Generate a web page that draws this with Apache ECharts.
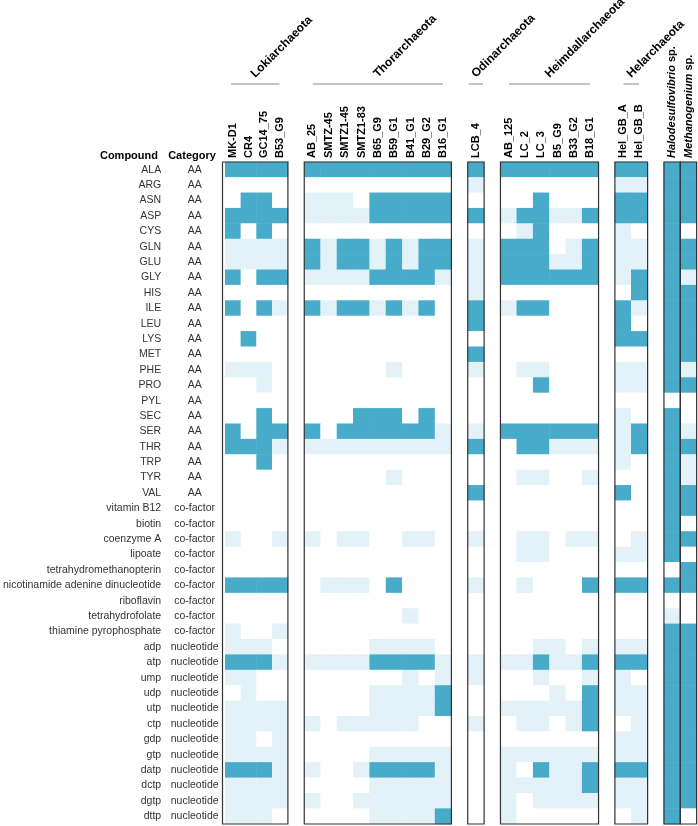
<!DOCTYPE html>
<html lang="en">
<head>
<meta charset="UTF-8">
<title>Compound auxotrophy heatmap</title>
<script src="https://cdn.jsdelivr.net/npm/echarts@6/dist/echarts.min.js"></script>
<style>
    html, body { margin: 0; padding: 0; background: #fff; }
    #chart { width: 698px; height: 826px; }
</style>
</head>
<body>
<div id="chart"></div>
<script>
    // rows of the heatmap
    const compounds = ['ALA', 'ARG', 'ASN', 'ASP', 'CYS', 'GLN', 'GLU', 'GLY', 'HIS', 'ILE', 'LEU', 'LYS',
        'MET', 'PHE', 'PRO', 'PYL', 'SEC', 'SER', 'THR', 'TRP', 'TYR', 'VAL',
        'vitamin B12', 'biotin', 'coenzyme A', 'lipoate', 'tetrahydromethanopterin',
        'nicotinamide adenine dinucleotide', 'riboflavin', 'tetrahydrofolate', 'thiamine pyrophosphate',
        'adp', 'atp', 'ump', 'udp', 'utp', 'ctp', 'gdp', 'gtp', 'datp', 'dctp', 'dgtp', 'dttp'];
    const categories = ['AA', 'AA', 'AA', 'AA', 'AA', 'AA', 'AA', 'AA', 'AA', 'AA', 'AA', 'AA',
        'AA', 'AA', 'AA', 'AA', 'AA', 'AA', 'AA', 'AA', 'AA', 'AA',
        'co-factor', 'co-factor', 'co-factor', 'co-factor', 'co-factor',
        'co-factor', 'co-factor', 'co-factor', 'co-factor',
        'nucleotide', 'nucleotide', 'nucleotide', 'nucleotide', 'nucleotide', 'nucleotide',
        'nucleotide', 'nucleotide', 'nucleotide', 'nucleotide', 'nucleotide', 'nucleotide'];

    // genomes per group
    const lokiCols = ['MK-D1', 'CR4', 'GC14_75', 'B53_G9'];
    const thorCols = ['AB_25', 'SMTZ-45', 'SMTZ1-45', 'SMTZ1-83', 'B65_G9', 'B59_G1', 'B41_G1', 'B29_G2', 'B16_G1'];
    const odinCols = ['LCB_4'];
    const heimCols = ['AB_125', 'LC_2', 'LC_3', 'B5_G9', 'B33_G2', 'B18_G1'];
    const helCols = ['Hel_GB_A', 'Hel_GB_B'];
    const haloCols = ['Halodesulfovibrio sp.'];
    const methCols = ['Methanogenium sp.'];

    // 0 = none, 1 = light, 2 = dark; one string per compound, one digit per genome
    const lokiRows = ['2222', '0000', '0220', '2222', '2020', '1111', '1111', '2022', '0000', '2021', '0000', '0200',
        '0000', '1110', '0010', '0000', '0020', '2022', '2221', '0020', '0000', '0000',
        '0000', '0000', '1001', '0000', '0000', '2222', '0000', '0000', '1001',
        '1110', '2221', '1100', '0100', '1111', '1111', '1101', '1111', '2221', '1111', '1111', '1110'];
    const thorRows = ['222222222', '000000000', '111022222', '111122222', '000000000', '212212122', '212212122',
        '111122221', '000000000', '212212120', '000000000', '000000000',
        '000000000', '000001000', '000000000', '000000000', '000222020', '202222221', '111111111',
        '000000000', '000001000', '000000000',
        '000000000', '000000000', '101100110', '000000000', '000000000', '011102000', '000000000',
        '000000100', '000000000',
        '000011110', '111122221', '000000101', '000011112', '000011112', '101111100', '000000000',
        '000011111', '100122221', '000011111', '100111111', '000011112'];
    const odinRows = ['2', '1', '0', '2', '0', '1', '1', '1', '1', '2', '2', '0',
        '2', '1', '0', '0', '0', '1', '2', '0', '0', '2',
        '0', '0', '1', '0', '0', '1', '0', '0', '0',
        '0', '1', '1', '0', '0', '1', '0', '0', '0', '0', '0', '0'];
    const heimRows = ['222222', '000000', '002000', '122112', '012000', '222012', '222112', '222222', '000000',
        '122000', '000000', '000000',
        '000000', '011000', '002000', '000000', '000000', '222222', '022111', '000000', '011001', '000000',
        '000000', '000000', '011011', '011000', '000000', '010002', '000000', '000000', '000000',
        '001101', '112112', '001001', '000102', '111112', '011012', '000000', '111111', '102112',
        '111112', '101111', '100000'];
    const helRows = ['22', '11', '22', '22', '10', '11', '11', '12', '02', '21', '20', '22',
        '00', '11', '11', '00', '10', '12', '12', '10', '00', '20',
        '00', '00', '01', '11', '00', '22', '00', '00', '00',
        '11', '22', '10', '11', '11', '01', '11', '11', '22', '11', '11', '01'];
    const haloRows = ['2', '2', '2', '2', '2', '2', '2', '2', '2', '2', '2', '2',
        '2', '2', '2', '0', '2', '2', '2', '2', '2', '2',
        '2', '2', '2', '2', '0', '2', '0', '1', '2',
        '2', '2', '2', '2', '2', '2', '2', '2', '2', '2', '2', '2'];
    const methRows = ['2', '2', '2', '2', '0', '2', '2', '1', '2', '2', '2', '2',
        '2', '1', '2', '0', '0', '1', '2', '1', '1', '2',
        '2', '0', '2', '0', '2', '2', '0', '0', '2',
        '2', '2', '2', '2', '2', '2', '2', '2', '2', '2', '2', '0'];

    const colors = ['#ffffff', '#e2f2f8', '#47abc9'];
    const font = 'Liberation Sans';

    // panel layout (start is a column slot, one empty slot between groups)
    const colW = 16.35, x0 = 222.5, gridTop = 162, gridH = 662;
    const panels = [
        {name: 'Lokiarchaeota', cols: lokiCols, rows: lokiRows, start: 0},
        {name: 'Thorarchaeota', cols: thorCols, rows: thorRows, start: 5},
        {name: 'Odinarchaeota', cols: odinCols, rows: odinRows, start: 15},
        {name: 'Heimdallarchaeota', cols: heimCols, rows: heimRows, start: 17},
        {name: 'Helarchaeota', cols: helCols, rows: helRows, start: 24},
        {name: '', cols: haloCols, rows: haloRows, start: 27},
        {name: '', cols: methCols, rows: methRows, start: 28}
    ];

    let grids = [], xAxes = [], yAxes = [], series = [], graphics = [];

    panels.forEach(function (p, gi) {
        let left = x0 + p.start * colW;
        let width = p.cols.length * colW;
        grids.push({left: left, top: gridTop, width: width, height: gridH});
        xAxes.push({
            type: 'category', gridIndex: gi, position: 'top', data: p.cols,
            axisLine: {show: false}, axisTick: {show: false}, splitLine: {show: false},
            axisLabel: {
                rotate: -90, interval: 0, margin: 4, color: '#000',
                fontFamily: font, fontSize: 11, fontWeight: 'bold',
                formatter: function (v) {
                    if (v.endsWith(' sp.')) return '{i|' + v.slice(0, -4) + '} {b|sp.}';
                    return v;
                },
                rich: {
                    i: {fontFamily: font, fontSize: 11, fontWeight: 'bold', fontStyle: 'italic', color: '#000'},
                    b: {fontFamily: font, fontSize: 11, fontWeight: 'bold', color: '#000'}
                }
            }
        });
        yAxes.push({
            type: 'category', gridIndex: gi, data: compounds, inverse: true,
            axisLine: {show: false}, axisTick: {show: false}, splitLine: {show: false},
            axisLabel: gi === 0 ? {
                interval: 0, margin: 64, color: '#333', fontFamily: font, fontSize: 10.5
            } : {show: false}
        });

        let data = [];
        p.rows.forEach(function (row, ri) {
            for (let ci = 0; ci < row.length; ci++) {
                data.push([ci, ri, Number(row[ci])]);
            }
        });
        series.push({
            type: 'heatmap', xAxisIndex: gi, yAxisIndex: gi, data: data,
            itemStyle: {borderWidth: 0},
            emphasis: {disabled: true},
            silent: true
        });

        // panel frame drawn above the cells
        graphics.push({
            type: 'rect', z: 100, silent: true,
            shape: {x: left, y: gridTop, width: width, height: gridH},
            style: {fill: null, stroke: '#333', lineWidth: 1.2}
        });

        if (p.name) {
            let inset = p.cols.length > 1 ? 8.5 : 1;
            graphics.push({
                type: 'line',
                shape: {x1: left + inset, y1: 84, x2: left + width - inset, y2: 84},
                style: {stroke: '#b3b3b3', lineWidth: 1.5}
            });
            graphics.push({
                type: 'text', x: left + width / 2 + 2, y: 80, rotation: Math.PI / 4,
                style: {
                    text: p.name, fill: '#000', align: 'left', verticalAlign: 'bottom',
                    font: 'bold 12px "' + font + '"'
                }
            });
        }
    });

    // category column, sits on the first grid
    yAxes.push({
        type: 'category', gridIndex: 0, data: compounds, inverse: true, position: 'left',
        axisLine: {show: false}, axisTick: {show: false}, splitLine: {show: false},
        axisLabel: {
            interval: 0, margin: 30.5, align: 'center', color: '#333', fontFamily: font, fontSize: 10.5,
            formatter: function (v, i) { return categories[i]; }
        }
    });

    graphics.push({
        type: 'text', x: 158, y: 155.5,
        style: {text: 'Compound', fill: '#000', align: 'right', verticalAlign: 'middle', font: 'bold 11px "' + font + '"'}
    });
    graphics.push({
        type: 'text', x: 192, y: 155.5,
        style: {text: 'Category', fill: '#000', align: 'center', verticalAlign: 'middle', font: 'bold 11px "' + font + '"'}
    });

    let chart = echarts.init(document.getElementById('chart'));
    chart.setOption({
        animation: false,
        backgroundColor: '#fff',
        grid: grids,
        xAxis: xAxes,
        yAxis: yAxes,
        visualMap: {
            type: 'piecewise', show: false, dimension: 2,
            pieces: [
                {value: 0, color: colors[0]},
                {value: 1, color: colors[1]},
                {value: 2, color: colors[2]}
            ]
        },
        series: series,
        graphic: graphics
    });
</script>
</body>
</html>
